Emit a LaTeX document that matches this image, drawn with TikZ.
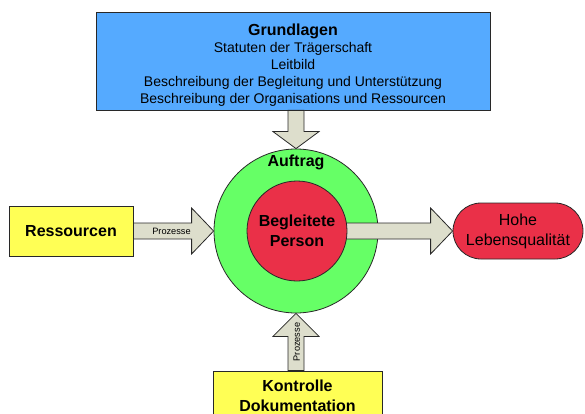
\documentclass[tikz,border=0pt]{standalone}
\usepackage{fontspec}
\setmainfont{Liberation Sans}
\usetikzlibrary{calc}
\definecolor{boxblue}{RGB}{85,170,255}
\definecolor{ringgreen}{RGB}{102,255,102}
\definecolor{personred}{RGB}{234,48,72}
\definecolor{boxyellow}{RGB}{255,255,85}
\definecolor{arrowfill}{RGB}{221,222,204}
\definecolor{edgegray}{RGB}{40,40,40}
\begin{document}
\begin{tikzpicture}[x=1pt,y=-1pt,
  box/.style={draw=edgegray,line width=0.8pt,rectangle,inner sep=0pt,align=center},
  circ/.style={draw=edgegray,line width=0.8pt,circle,inner sep=0pt},
  barrow/.style={draw=edgegray,line width=0.8pt,fill=arrowfill,line join=miter},
  big/.style={font=\fontsize{16}{19.5}\selectfont\bfseries},
  small/.style={font=\fontsize{9.2}{10}\selectfont}
]
\useasboundingbox (0,0) rectangle (585,414);

% boxes
\node[box,fill=boxblue,minimum width=394,minimum height=98,
  font=\fontsize{14}{17}\selectfont] (grund) at (293,61)
  {\rule{0pt}{19pt}{\fontsize{16}{17}\selectfont\bfseries Grundlagen}\\
   Statuten der Trägerschaft\\
   Leitbild\\
   Beschreibung der Begleitung und Unterstützung\\
   Beschreibung der Organisations und Ressourcen};
\node[box,big,fill=boxyellow,minimum width=124,minimum height=50] (res) at (71,231) {Ressourcen};
\node[box,fill=personred,minimum width=130,minimum height=56,rounded corners=28,
  font=\fontsize{16}{20}\selectfont] (hohe) at (518,231) {Hohe\\Lebensqualität};
\node[box,big,fill=boxyellow,minimum width=169,minimum height=70,text depth=0pt] (kon) at (297.5,406) {};
\node[big,align=center] (kontext) at (297.5,396) {Kontrolle\\Dokumentation};

% ring
\node[circ,fill=ringgreen,minimum size=164] (auftrag) at (296,231) {};
\node[big] (auftraglabel) at ($(auftrag.north)+(0,14)$) {Auftrag};

% arrows
\draw[barrow] (auftrag.north) -- ++(-23,-17) -- ++(15,0)
  -- ($(grund.south -| auftrag.north)+(-8,0)$) -- ++(16,0)
  -- ($(auftrag.north)+(8,-17)$) -- ++(15,0) -- cycle;
\draw[barrow] (auftrag.west) -- ++(-22,-23) -- ++(0,15)
  -- ($(res.east)+(0,-8)$) -- ++(0,16)
  -- ($(auftrag.west)+(-22,8)$) -- ++(0,15) -- cycle;
\draw[barrow] (auftrag.south) -- ++(-23,23) -- ++(15,0)
  -- ($(kon.north -| auftrag.south)+(-8,0)$) -- ++(16,0)
  -- ($(auftrag.south)+(8,23)$) -- ++(15,0) -- cycle;
\draw[barrow] (hohe.west) -- ++(-22,-23) -- ++(0,15)
  -- ($(auftrag.center)+(44,-8)$) -- ++(0,16)
  -- ($(hohe.west)+(-22,8)$) -- ++(0,15) -- cycle;

% person
\node[circ,fill=personred,minimum size=100,big,align=center] (person) at (297,231) {Begleitete\\Person};

% labels
\node[small] (p1) at ($(res.east)!0.5!(auftrag.west)+(-2,0)$) {Prozesse};
\node[small,rotate=90] (p2) at ($(auftrag.south)!0.5!(kon.north)$) {Prozesse};
\end{tikzpicture}
\end{document}
